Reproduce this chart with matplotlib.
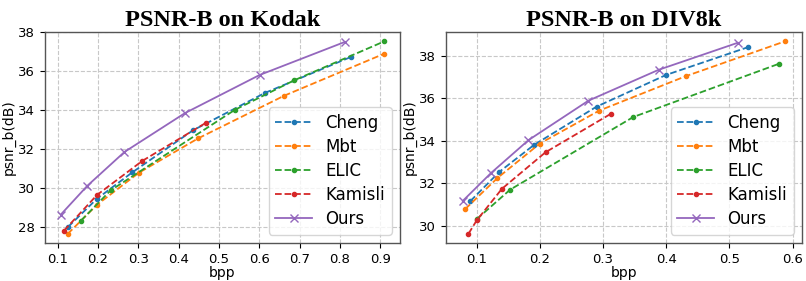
import matplotlib.pyplot as plt

# Kodak
kodak_cheng_x = [0.126, 0.197, 0.285, 0.436, 0.614, 0.827]
kodak_cheng_y = [28.02, 29.45, 30.81, 32.97, 34.88, 36.72]
kodak_mbt_x = [0.125, 0.198, 0.302, 0.449, 0.662, 0.910]
kodak_mbt_y = [27.66, 29.16, 30.80, 32.56, 34.74, 36.89]
kodak_elic_x = [0.158, 0.2315, 0.540, 0.687, 0.910]
kodak_elic_y = [28.34, 29.89, 34.02, 35.53, 37.52]
kodak_kamisli_x = [0.116, 0.198, 0.310, 0.467]
kodak_kamisli_y = [27.83, 29.66, 31.40, 33.34]
kodak_ours_x = [0.108, 0.174, 0.266, 0.416, 0.601, 0.812]
kodak_ours_y = [28.65, 30.13, 31.86, 33.85, 35.80, 37.49]

# DIV8k
div_cheng_x = [0.090, 0.136, 0.191, 0.290, 0.400, 0.529]
div_cheng_y = [31.15, 32.53, 33.80, 35.60, 37.09, 38.39]
div_mbt_x = [0.082, 0.133, 0.200, 0.294, 0.431, 0.588]
div_mbt_y = [30.78, 32.24, 33.86, 35.41, 37.03, 38.67]
div_elic_x = [0.100, 0.153, 0.348, 0.579]
div_elic_y = [30.30, 31.69, 35.11, 37.62]
div_kamisli_x = [0.087, 0.100, 0.140, 0.209, 0.313]
div_kamisli_y = [29.61, 30.24, 31.73, 33.45, 35.27]
div_ours_x = [0.078, 0.123, 0.182, 0.277, 0.388, 0.513]
div_ours_y = [31.16, 32.48, 34.02, 35.88, 37.33, 38.60]


def draw(ax, data, title, xticks, yticks, xlim, ylim):
    names = ["Cheng", "Mbt", "ELIC", "Kamisli"]
    colors = ["#1f77b4", "#ff7f0e", "#2ca02c", "#d62728"]
    for (x, y), name, c in zip(data[:4], names, colors):
        ax.plot(x, y, "--", marker=".", color=c, lw=1.3, ms=6, label=name)
    ax.plot(data[4][0], data[4][1], "-", marker="x", color="#9467bd", lw=1.3,
            ms=6, label="Ours")
    ax.set_title(title, fontfamily="Liberation Serif", fontweight="bold",
                 fontsize=17.5, pad=4)
    ax.set_xticks(xticks)
    ax.set_yticks(yticks)
    ax.set_xlim(*xlim)
    ax.set_ylim(*ylim)
    ax.tick_params(labelsize=9.5)
    ax.set_xlabel("bpp", fontsize=10, labelpad=0)
    ax.set_ylabel("psnr_b(dB)", fontsize=10, labelpad=2)
    ax.grid(ls="--", color="#c8c8c8", lw=0.8)
    for s in ax.spines.values():
        s.set_color("#555555")
        s.set_linewidth(1.0)
    ax.legend(loc="lower right", fontsize=12, handlelength=2.2,
              labelspacing=0.36)


fig = plt.figure(figsize=(8.06, 2.81), dpi=100)
ax1 = fig.add_axes([45 / 806, 1 - 243 / 281, 355 / 806, 211 / 281])
ax2 = fig.add_axes([446 / 806, 1 - 243 / 281, 356 / 806, 211 / 281])

draw(ax1,
     [(kodak_cheng_x, kodak_cheng_y), (kodak_mbt_x, kodak_mbt_y),
      (kodak_elic_x, kodak_elic_y), (kodak_kamisli_x, kodak_kamisli_y),
      (kodak_ours_x, kodak_ours_y)],
     "PSNR-B on Kodak", [0.1, 0.2, 0.3, 0.4, 0.5, 0.6, 0.7, 0.8, 0.9],
     [28, 30, 32, 34, 36, 38], (0.069, 0.949), (27.2, 38.0))
draw(ax2,
     [(div_cheng_x, div_cheng_y), (div_mbt_x, div_mbt_y),
      (div_elic_x, div_elic_y), (div_kamisli_x, div_kamisli_y),
      (div_ours_x, div_ours_y)],
     "PSNR-B on DIV8k", [0.1, 0.2, 0.3, 0.4, 0.5, 0.6],
     [30, 32, 34, 36, 38], (0.0515, 0.615), (29.18, 39.11))

fig.savefig("out.png", dpi=100)
